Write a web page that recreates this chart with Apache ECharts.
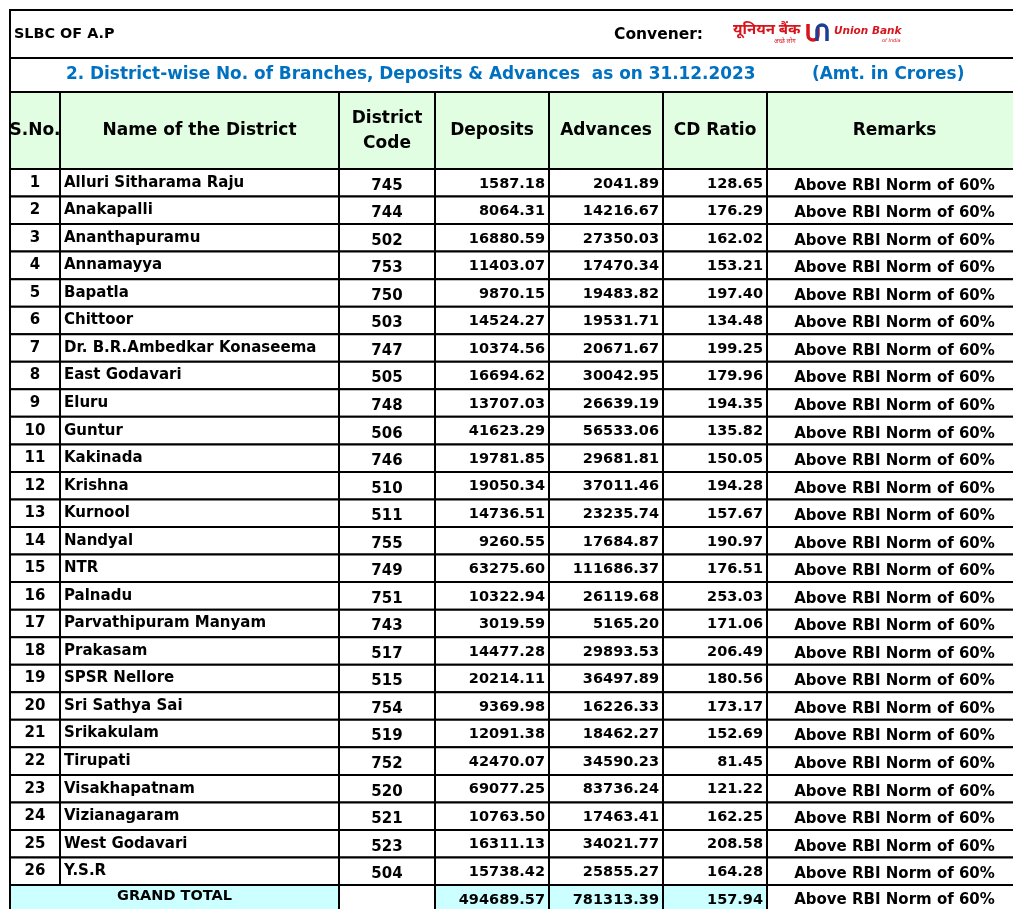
<!DOCTYPE html>
<html>
<head>
<meta charset="utf-8">
<script src="https://cdn.jsdelivr.net/npm/echarts/dist/echarts.min.js"></script>
<style>
  html, body { margin: 0; padding: 0; background: #fff; }
  #chart { width: 1013px; height: 909px; }
</style>
</head>
<body>
<div id="chart"></div>
<script>
// district-wise data as on 31.12.2023 (Amt. in Crores)
const districts = ['Alluri Sitharama Raju', 'Anakapalli', 'Ananthapuramu', 'Annamayya', 'Bapatla', 'Chittoor',
  'Dr. B.R.Ambedkar Konaseema', 'East Godavari', 'Eluru', 'Guntur', 'Kakinada', 'Krishna', 'Kurnool', 'Nandyal',
  'NTR', 'Palnadu', 'Parvathipuram Manyam', 'Prakasam', 'SPSR Nellore', 'Sri Sathya Sai', 'Srikakulam',
  'Tirupati', 'Visakhapatnam', 'Vizianagaram', 'West Godavari', 'Y.S.R'];
const districtCodes = [745, 744, 502, 753, 750, 503, 747, 505, 748, 506, 746, 510, 511, 755, 749, 751, 743, 517,
  515, 754, 519, 752, 520, 521, 523, 504];
const deposits = [1587.18, 8064.31, 16880.59, 11403.07, 9870.15, 14524.27, 10374.56, 16694.62, 13707.03, 41623.29,
  19781.85, 19050.34, 14736.51, 9260.55, 63275.60, 10322.94, 3019.59, 14477.28, 20214.11, 9369.98, 12091.38,
  42470.07, 69077.25, 10763.50, 16311.13, 15738.42];
const advances = [2041.89, 14216.67, 27350.03, 17470.34, 19483.82, 19531.71, 20671.67, 30042.95, 26639.19, 56533.06,
  29681.81, 37011.46, 23235.74, 17684.87, 111686.37, 26119.68, 5165.20, 29893.53, 36497.89, 16226.33, 18462.27,
  34590.23, 83736.24, 17463.41, 34021.77, 25855.27];
const cdRatios = [128.65, 176.29, 162.02, 153.21, 197.40, 134.48, 199.25, 179.96, 194.35, 135.82, 150.05, 194.28,
  157.67, 190.97, 176.51, 253.03, 171.06, 206.49, 180.56, 173.17, 152.69, 81.45, 121.22, 162.25, 208.58, 164.28];
const remarks = districts.map(() => 'Above RBI Norm of 60%');
const grandTotal = { label: 'GRAND TOTAL', deposits: 494689.57, advances: 781313.39, cdRatio: 157.94, remark: 'Above RBI Norm of 60%' };

const headers = ['S.No.', 'Name of the District', 'District\nCode', 'Deposits', 'Advances', 'CD Ratio', 'Remarks'];

// layout
const FONT = '"DejaVu Sans"';
const colEdges = [0, 50, 329, 425, 539, 653, 757, 1012]; // x offsets from the table's left edge
const TABLE_LEFT = 10;
const BODY_TOP = 169;
const ROW_H = 27.54;
const NUM_SIZE = 14.5;
const HEADER_GREEN = '#e2fee2';
const TOTAL_CYAN = '#ccffff';
const TITLE_BLUE = '#0070c0';
const UBI_RED = '#d7141c';
const UBI_BLUE = '#1c3f94';

const rowLabels = districts.map((d, i) => String(i + 1)).concat([grandTotal.label]);
const chart = echarts.init(document.getElementById('chart'));

function fmt(v) { return v.toFixed(2); }

function renderRow(params, api) {
  const i = params.dataIndex;
  const isTotal = i === districts.length;
  const h = api.size([0, 1])[1];
  const cy = api.coord([0, i])[1];
  const top = cy - h / 2;
  const xs = colEdges.map(e => api.coord([e, i])[0]);
  const children = [];
  const cell = (x0, x1, fill) => children.push({
    type: 'rect',
    shape: { x: x0, y: top, width: x1 - x0, height: h },
    style: { fill: fill, stroke: '#000', lineWidth: 2 }
  });
  const txt = (x, y, s, align, size) => children.push({
    type: 'text',
    style: { x: x, y: y, text: s, align: align, verticalAlign: 'middle', fill: '#000',
      font: 'bold ' + (size || 15) + 'px ' + FONT }
  });
  if (isTotal) {
    cell(xs[0], xs[2], TOTAL_CYAN);
    cell(xs[2], xs[3], '#fff');
    cell(xs[3], xs[4], TOTAL_CYAN);
    cell(xs[4], xs[5], TOTAL_CYAN);
    cell(xs[5], xs[6], TOTAL_CYAN);
    cell(xs[6], xs[7], '#fff');
    txt((xs[0] + xs[2]) / 2, cy - 3, grandTotal.label, 'center', 14.5);
    txt(xs[4] - 4, cy + 1, fmt(grandTotal.deposits), 'right', NUM_SIZE);
    txt(xs[5] - 4, cy + 1, fmt(grandTotal.advances), 'right', NUM_SIZE);
    txt(xs[6] - 4, cy + 1, fmt(grandTotal.cdRatio), 'right', NUM_SIZE);
    txt((xs[6] + xs[7]) / 2, cy + 1, grandTotal.remark, 'center');
  } else {
    for (let c = 0; c < 7; c++) cell(xs[c], xs[c + 1], '#fff');
    txt((xs[0] + xs[1]) / 2, cy, String(i + 1), 'center');
    txt(xs[1] + 4, cy, districts[i], 'left');
    txt((xs[2] + xs[3]) / 2, cy + 3, String(districtCodes[i]), 'center');
    txt(xs[4] - 4, cy + 1, fmt(deposits[i]), 'right', NUM_SIZE);
    txt(xs[5] - 4, cy + 1, fmt(advances[i]), 'right', NUM_SIZE);
    txt(xs[6] - 4, cy + 1, fmt(cdRatios[i]), 'right', NUM_SIZE);
    txt((xs[6] + xs[7]) / 2, cy + 3, remarks[i], 'center');
  }
  return { type: 'group', children: children };
}

// header blocks (title rows + column headings)
const graphics = [
  { type: 'rect', shape: { x: 10, y: 10, width: 1012, height: 48 }, style: { fill: '#fff', stroke: '#000', lineWidth: 2 } },
  { type: 'rect', shape: { x: 10, y: 58, width: 1012, height: 34 }, style: { fill: '#fff', stroke: '#000', lineWidth: 2 } },
  { type: 'text', style: { x: 14, y: 34, text: 'SLBC OF A.P', font: 'bold 14.4px ' + FONT, fill: '#000', verticalAlign: 'middle' } },
  { type: 'text', style: { x: 614, y: 35, text: 'Convener:', font: 'bold 15.5px ' + FONT, fill: '#000', verticalAlign: 'middle' } },
  { type: 'text', style: { x: 733, y: 30, text: 'यूनियन बैंक', font: 'bold 15px "Noto Sans", sans-serif', fill: UBI_RED, verticalAlign: 'middle' } },
  { type: 'text', style: { x: 774, y: 41, text: 'अच्छे लोग', font: '6px "Noto Sans", sans-serif', fill: UBI_RED, verticalAlign: 'middle' } },
  // logo mark
  { type: 'line', shape: { x1: 808, y1: 24, x2: 808, y2: 35 }, style: { stroke: UBI_RED, lineWidth: 3.5 } },
  { type: 'arc', shape: { cx: 813, cy: 35, r: 5, startAngle: 0, endAngle: Math.PI, clockwise: true }, style: { fill: 'none', stroke: UBI_RED, lineWidth: 3.5 } },
  { type: 'line', shape: { x1: 818, y1: 35, x2: 818, y2: 28 }, style: { stroke: UBI_RED, lineWidth: 3.5 } },
  { type: 'line', shape: { x1: 817, y1: 41, x2: 817, y2: 30 }, style: { stroke: UBI_BLUE, lineWidth: 3.5 } },
  { type: 'arc', shape: { cx: 822, cy: 30, r: 5, startAngle: Math.PI, endAngle: Math.PI * 2, clockwise: true }, style: { fill: 'none', stroke: UBI_BLUE, lineWidth: 3.5 } },
  { type: 'line', shape: { x1: 827, y1: 30, x2: 827, y2: 41 }, style: { stroke: UBI_BLUE, lineWidth: 3.5 } },
  { type: 'text', style: { x: 834, y: 31, text: 'Union Bank', font: 'italic bold 10.5px ' + FONT, fill: UBI_RED, verticalAlign: 'middle' } },
  { type: 'text', style: { x: 882, y: 41, text: 'of India', font: 'italic 5px ' + FONT, fill: UBI_RED, verticalAlign: 'middle' } },
  { type: 'text', style: { x: 66, y: 75, text: '2. District-wise No. of Branches, Deposits & Advances  as on 31.12.2023', font: 'bold 16.9px ' + FONT, fill: TITLE_BLUE, verticalAlign: 'middle' } },
  { type: 'text', style: { x: 812, y: 75, text: '(Amt. in Crores)', font: 'bold 16.9px ' + FONT, fill: TITLE_BLUE, verticalAlign: 'middle' } }
];
for (let c = 0; c < headers.length; c++) {
  const x0 = TABLE_LEFT + colEdges[c], x1 = TABLE_LEFT + colEdges[c + 1];
  graphics.push({ type: 'rect', shape: { x: x0, y: 92, width: x1 - x0, height: BODY_TOP - 92 },
    style: { fill: HEADER_GREEN, stroke: '#000', lineWidth: 2 } });
  graphics.push({ type: 'text', style: { x: (x0 + x1) / 2, y: 131, text: headers[c], align: 'center',
    verticalAlign: 'middle', lineHeight: 25, font: 'bold 17px ' + FONT, fill: '#000' } });
}

chart.setOption({
  backgroundColor: '#fff',
  animation: false,
  graphic: graphics,
  grid: { left: TABLE_LEFT, top: BODY_TOP, height: ROW_H * rowLabels.length, width: colEdges[colEdges.length - 1], outerBoundsMode: 'none' },
  xAxis: { type: 'value', min: 0, max: colEdges[colEdges.length - 1], show: false },
  yAxis: { type: 'category', data: rowLabels, inverse: true, show: false },
  series: [{
    type: 'custom',
    renderItem: renderRow,
    clip: false,
    data: rowLabels.map((r, i) => [0, i])
  }]
});
</script>
</body>
</html>
